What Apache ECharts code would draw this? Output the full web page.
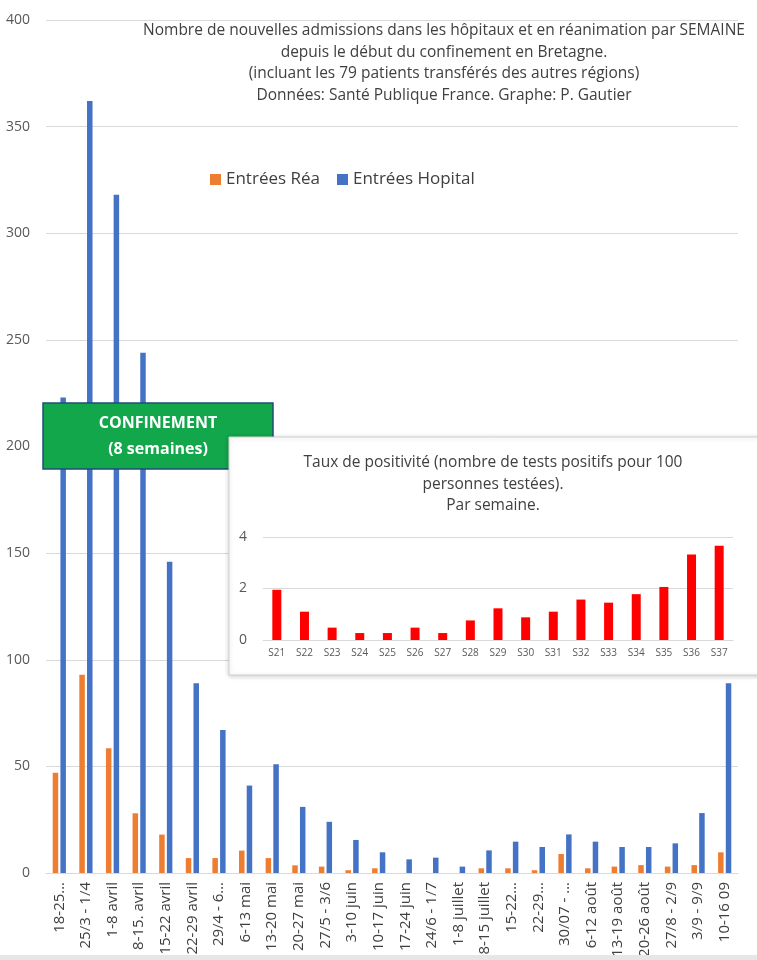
<!DOCTYPE html>
<html>
<head>
<meta charset="utf-8">
<script src="https://cdn.jsdelivr.net/npm/echarts@6/dist/echarts.min.js"></script>
<style>
  html, body { margin: 0; padding: 0; background: #fff; }
  #chart { width: 757px; height: 960px; }
</style>
</head>
<body>
<div id="chart"></div>
<script>
// semaines (axe principal)
var semaines = ['18-25…', '25/3 - 1/4', '1-8 avril', '8-15. avril', '15-22 avril', '22-29 avril',
    '29/4 - 6…', '6-13 mai', '13-20 mai', '20-27 mai', '27/5 - 3/6', '3-10 juin', '10-17 juin',
    '17-24 juin', '24/6 - 1/7', '1-8 juillet', '8-15 juillet', '15-22…', '22-29…', '30/07 - …',
    '6-12 août', '13-19 août', '20-26 août', '27/8 - 2/9', '3/9 - 9/9', '10-16 09'];
var entreesRea = [47, 93, 58.5, 28, 18, 7, 7, 10.5, 7, 3.6, 3, 1.3, 2.2, 0, 0, 0, 2.2, 2.2, 1.3, 8.9,
    2.2, 3, 3.7, 3, 3.7, 9.7];
var entreesHopital = [223, 362, 318, 244, 146, 89, 67, 41, 51, 31, 24, 15.5, 9.7, 6.4, 7.2, 3, 10.6,
    14.7, 12.2, 18.1, 14.7, 12.2, 12.2, 13.9, 28.1, 89];

// encart : taux de positivité
var semainesNum = ['S21', 'S22', 'S23', 'S24', 'S25', 'S26', 'S27', 'S28', 'S29', 'S30', 'S31',
    'S32', 'S33', 'S34', 'S35', 'S36', 'S37'];
var tauxPositivite = [1.95, 1.1, 0.48, 0.27, 0.27, 0.48, 0.27, 0.76, 1.23, 0.88, 1.1, 1.57, 1.45,
    1.78, 2.06, 3.32, 3.66];

var FONT = '"Open Sans", "Liberation Sans", sans-serif';
var ORANGE = '#ED7D31', BLUE = '#4472C4';

var chart = echarts.init(document.getElementById('chart'));

chart.setOption({
    animation: false,
    textStyle: { fontFamily: FONT },
    legend: {
        left: 205, top: 166,
        itemWidth: 11, itemHeight: 11, itemGap: 17,
        icon: 'rect',
        textStyle: { fontSize: 17, color: '#404040', fontFamily: FONT },
        data: ['Entrées Réa', 'Entrées Hopital']
    },
    grid: [
        { left: 46, right: 19, top: 20, bottom: 87 },
        { left: 263, right: 24, top: 537, bottom: 320 }
    ],
    xAxis: [{
        type: 'category', gridIndex: 0, data: semaines,
        axisLine: { lineStyle: { color: '#d9d9d9' } },
        axisTick: { show: false },
        axisLabel: { interval: 0, rotate: 90, fontSize: 15, color: '#404040', margin: 9 }
    }, {
        type: 'category', gridIndex: 1, data: semainesNum, z: 20,
        axisLine: { lineStyle: { color: '#d9d9d9' } },
        axisTick: { show: false },
        axisLabel: { interval: 0, fontSize: 10, color: '#595959', margin: 8 }
    }],
    yAxis: [{
        type: 'value', gridIndex: 0, min: 0, max: 400, interval: 50,
        axisLine: { show: false }, axisTick: { show: false },
        splitLine: { lineStyle: { color: '#d9d9d9' } },
        axisLabel: { fontSize: 14, color: '#595959', margin: 16 }
    }, {
        type: 'value', gridIndex: 1, min: 0, max: 4, interval: 2, z: 20,
        axisLine: { show: false }, axisTick: { show: false },
        splitLine: { lineStyle: { color: '#d9d9d9' } },
        axisLabel: { fontSize: 14, color: '#595959', margin: 16 }
    }],
    series: [{
        name: 'Entrées Réa', type: 'bar', xAxisIndex: 0, yAxisIndex: 0,
        data: entreesRea, barWidth: 5.5, barGap: '40%',
        itemStyle: { color: ORANGE }
    }, {
        name: 'Entrées Hopital', type: 'bar', xAxisIndex: 0, yAxisIndex: 0,
        data: entreesHopital, barWidth: 5.5, barGap: '40%',
        itemStyle: { color: BLUE }
    }, {
        name: 'Taux', type: 'bar', xAxisIndex: 1, yAxisIndex: 1, z: 20,
        data: tauxPositivite, barWidth: 9,
        itemStyle: { color: '#ff0000' }
    }],
    graphic: [{
        type: 'text', x: 444, y: 20, z: 1,
        style: {
            text: 'Nombre de nouvelles admissions dans les hôpitaux et en réanimation par SEMAINE\n' +
                  'depuis le début du confinement en Bretagne.\n' +
                  '(incluant les 79 patients transférés des autres régions)\n' +
                  'Données: Santé Publique France. Graphe: P. Gautier',
            textAlign: 'center', fontSize: 15.5, lineHeight: 21.5, fill: '#404040', fontFamily: FONT
        }
    }, {
        // encadré confinement
        type: 'rect', z: 10,
        shape: { x: 43, y: 403, width: 230, height: 66 },
        style: { fill: '#13a74c', stroke: '#1f4e79', lineWidth: 1.5 }
    }, {
        type: 'text', x: 158, y: 436, z: 11,
        style: {
            text: 'CONFINEMENT\n(8 semaines)', textAlign: 'center', textVerticalAlign: 'middle',
            fontSize: 16, fontWeight: 'bold', lineHeight: 26, fill: '#ffffff', fontFamily: FONT
        }
    }, {
        // encart positivité
        type: 'rect', z: 12,
        shape: { x: 229, y: 437, width: 540, height: 238 },
        style: { fill: '#ffffff', stroke: '#d0d0d0', lineWidth: 1,
                 shadowBlur: 5, shadowColor: 'rgba(0,0,0,0.2)', shadowOffsetY: 1 }
    }, {
        type: 'text', x: 493, y: 452, z: 13,
        style: {
            text: 'Taux de positivité (nombre de tests positifs pour 100\npersonnes testées).\nPar semaine.',
            textAlign: 'center', fontSize: 15.5, lineHeight: 21.5, fill: '#404040', fontFamily: FONT
        }
    }, {
        type: 'rect', z: 1,
        shape: { x: 0, y: 955, width: 757, height: 5 },
        style: { fill: '#e6e6e6' }
    }]
});
</script>
</body>
</html>
